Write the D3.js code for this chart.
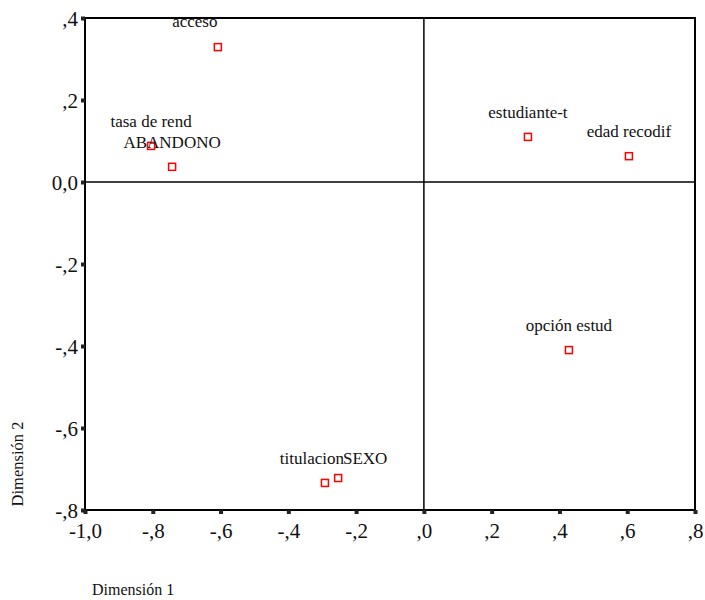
<!DOCTYPE html>
<html><head><meta charset="utf-8">
<script src="https://cdn.jsdelivr.net/npm/d3@7"></script>
<style>body{margin:0;background:#fff}svg{display:block}</style>
</head><body><svg id="c" width="705" height="600"></svg>
<script>
const labels = ["acceso","tasa de rend","ABANDONO","estudiante-t","edad recodif","opción estud","titulacion","SEXO"];
const dim1 = [-0.608,-0.805,-0.743,0.307,0.605,0.428,-0.292,-0.253];
const dim2 = [0.329,0.088,0.037,0.110,0.063,-0.410,-0.734,-0.722];
const xTicks = [-1.0,-0.8,-0.6,-0.4,-0.2,0.0,0.2,0.4,0.6,0.8];
const xTickLabels = ["-1,0","-,8","-,6","-,4","-,2",",0",",2",",4",",6",",8"];
const yTicks = [0.4,0.2,0.0,-0.2,-0.4,-0.6,-0.8];
const yTickLabels = [",4",",2","0,0","-,2","-,4","-,6","-,8"];
// label nudges (px) relative to default placement above the marker
const labelNudge = [[-23,-1],[0,0],[0,0],[0,0],[0,0],[0,0],[-13,0],[27,5]];

const FONT = "'Liberation Serif','Times New Roman',Times,serif";
const svg = d3.select("#c");
const L=85,R=695,T=18,B=510;
const x = d3.scaleLinear().domain([-1.0,0.8]).range([L,R]);
const y = d3.scaleLinear().domain([-0.8,0.4]).range([B,T]);

// zero lines
svg.append("line").attr("x1",x(0)).attr("x2",x(0)).attr("y1",T).attr("y2",B).attr("stroke","#000").attr("stroke-width",1.5);
svg.append("line").attr("x1",L).attr("x2",R).attr("y1",y(0)).attr("y2",y(0)).attr("stroke","#000").attr("stroke-width",1.5);
// frame
svg.append("rect").attr("x",L).attr("y",T).attr("width",R-L).attr("height",B-T).attr("fill","none").attr("stroke","#000").attr("stroke-width",2);

// x axis
const xa = d3.axisBottom(x).tickValues(xTicks).tickSize(0).tickPadding(0).tickFormat((d,i)=>xTickLabels[i]);
const gx = svg.append("g").attr("transform",`translate(0,${B})`).call(xa);
gx.select(".domain").remove();
gx.selectAll(".tick").append("rect").attr("x",-2).attr("y",0).attr("width",4).attr("height",4).attr("fill","#222");
gx.selectAll("text").attr("y",28).attr("dy",0).attr("font-family",FONT).attr("font-size",21).attr("fill","#111");

// y axis
const ya = d3.axisLeft(y).tickValues(yTicks).tickSize(0).tickPadding(0).tickFormat((d,i)=>yTickLabels[i]);
const gy = svg.append("g").attr("transform",`translate(${L},0)`).call(ya);
gy.select(".domain").remove();
gy.selectAll(".tick").append("rect").attr("x",-4).attr("y",-2).attr("width",4).attr("height",4).attr("fill","#222");
gy.selectAll("text").attr("x",-7).attr("dy","0.35em").attr("font-family",FONT).attr("font-size",21).attr("fill","#111");

// points
const data = labels.map((l,i)=>({l,x:dim1[i],y:dim2[i],n:labelNudge[i]}));
svg.selectAll("rect.pt").data(data).join("rect").attr("class","pt")
  .attr("x",d=>x(d.x)-3.5).attr("y",d=>y(d.y)-3.5).attr("width",7).attr("height",7)
  .attr("fill","#fff").attr("stroke","#ff0000").attr("stroke-width",1.5);
svg.selectAll("text.lb").data(data).join("text").attr("class","lb")
  .attr("x",d=>x(d.x)+d.n[0]).attr("y",d=>y(d.y)-19+d.n[1])
  .attr("text-anchor","middle").attr("font-family",FONT).attr("font-size",17).attr("fill","#111").text(d=>d.l);

// axis titles
svg.append("text").attr("transform","translate(23,464) rotate(-90)").attr("text-anchor","middle")
  .attr("font-family",FONT).attr("font-size",16.5).attr("fill","#111").text("Dimensión 2");
svg.append("text").attr("x",92).attr("y",595).attr("font-family",FONT).attr("font-size",16).attr("fill","#111").text("Dimensión 1");
</script></body></html>
